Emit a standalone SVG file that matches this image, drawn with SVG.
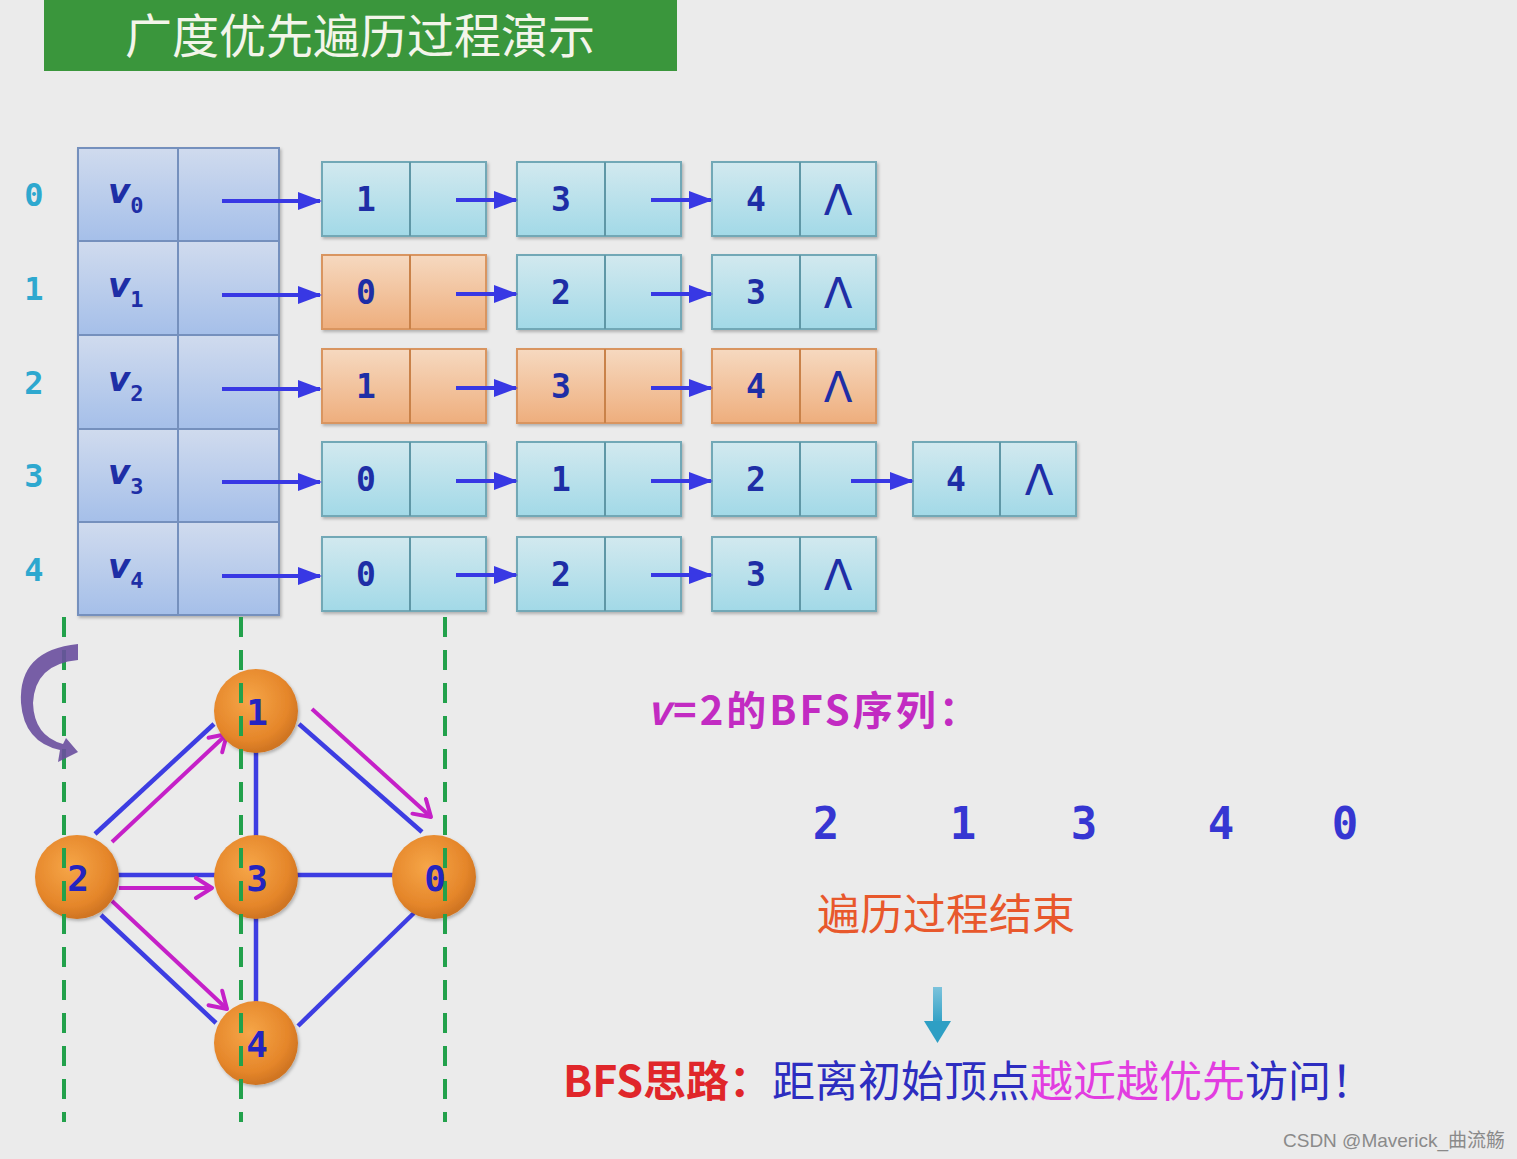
<svg xmlns="http://www.w3.org/2000/svg" width="1517" height="1159" viewBox="0 0 1517 1159">
<defs>
<linearGradient id="gTable" x1="0" y1="0" x2="0" y2="1"><stop offset="0" stop-color="#d0dbee"/><stop offset="1" stop-color="#a5bfe9"/></linearGradient>
<linearGradient id="gCyan" x1="0" y1="0" x2="0" y2="1"><stop offset="0" stop-color="#d2e9ef"/><stop offset="1" stop-color="#a2d9e7"/></linearGradient>
<linearGradient id="gOrange" x1="0" y1="0" x2="0" y2="1"><stop offset="0" stop-color="#f6d9c0"/><stop offset="1" stop-color="#eeae7d"/></linearGradient>
<radialGradient id="gNode" cx="0.42" cy="0.38" r="0.62"><stop offset="0" stop-color="#f6a648"/><stop offset="0.75" stop-color="#e5862a"/><stop offset="1" stop-color="#cf7422"/></radialGradient>
<linearGradient id="gDown" x1="0" y1="0" x2="0" y2="1"><stop offset="0" stop-color="#7cc3dc"/><stop offset="1" stop-color="#2e9fc4"/></linearGradient>
<filter id="sh" x="-5%" y="-5%" width="115%" height="120%"><feDropShadow dx="1.5" dy="2" stdDeviation="1.5" flood-color="#000" flood-opacity="0.25"/></filter>
<marker id="ab" markerUnits="userSpaceOnUse" markerWidth="24" markerHeight="18" refX="22" refY="9" orient="auto"><path d="M0,0 L24,9 L0,18 Z" fill="#3838e4"/></marker>
<marker id="ap" markerUnits="userSpaceOnUse" markerWidth="22" markerHeight="24" refX="19" refY="12" orient="auto"><path d="M3,2 L19,12 L3,22" fill="none" stroke="#c520c8" stroke-width="4" stroke-linecap="round" stroke-linejoin="round"/></marker>
</defs>
<style>
.tcell{fill:url(#gTable);stroke:#7590bd;stroke-width:2}
.cy{fill:url(#gCyan);stroke:#72a8b6;stroke-width:2}
.cyd{stroke:#5f97a6;stroke-width:2}
.or{fill:url(#gOrange);stroke:#d99560;stroke-width:2}
.ord{stroke:#c98248;stroke-width:2}
.num{font-family:"DejaVu Sans Mono",monospace;font-weight:bold;font-size:33px;fill:#1e2ea6;text-anchor:middle}
.idx{font-family:"DejaVu Sans Mono",monospace;font-weight:bold;font-size:32px;fill:#2ea8cf;text-anchor:middle}
.lam{font-family:"DejaVu Sans",sans-serif;font-size:42px;fill:#1e2ea6;text-anchor:middle}
.vl{font-family:"DejaVu Sans",sans-serif;font-style:italic;font-weight:bold;font-size:34px;fill:#1e2ea6}
.vs{font-family:"DejaVu Sans Mono",monospace;font-style:normal;font-weight:bold;font-size:22px}
.ptr{stroke:#3838e4;stroke-width:4;fill:none}
.edge{stroke:#3d3de2;stroke-width:4.5;fill:none}
.pk{stroke:#c520c8;stroke-width:4;fill:none;marker-end:url(#ap)}
.gl{stroke:#22a14b;stroke-width:4;stroke-dasharray:20 13;fill:none}
.gn{fill:url(#gNode);filter:url(#sh)}
.gt{font-family:"DejaVu Sans Mono",monospace;font-weight:bold;font-size:36px;fill:#2424c0;text-anchor:middle}
.seq{font-family:"DejaVu Sans Mono",monospace;font-weight:bold;font-size:44px;fill:#3636d2;text-anchor:middle}
.cjk{font-family:"Noto Sans CJK SC",sans-serif}
</style>
<rect x="0" y="0" width="1517" height="1159" fill="#ebebeb"/>

<g id="title">
<rect x="44" y="0" width="633" height="71" fill="#3a963c"/>
<text x="360" y="53" text-anchor="middle" class="cjk" font-size="47" fill="#f3f5ea">广度优先遍历过程演示</text>
</g>

<g id="index-labels">
<text class="idx" x="34" y="206">0</text>
<text class="idx" x="34" y="300">1</text>
<text class="idx" x="34" y="394">2</text>
<text class="idx" x="34" y="487">3</text>
<text class="idx" x="34" y="581">4</text>
</g>

<g id="vertex-table" filter="url(#sh)">
<rect class="tcell" x="78" y="148" width="100" height="93"/><rect class="tcell" x="178" y="148" width="101" height="93"/>
<rect class="tcell" x="78" y="241" width="100" height="94"/><rect class="tcell" x="178" y="241" width="101" height="94"/>
<rect class="tcell" x="78" y="335" width="100" height="94"/><rect class="tcell" x="178" y="335" width="101" height="94"/>
<rect class="tcell" x="78" y="429" width="100" height="93"/><rect class="tcell" x="178" y="429" width="101" height="93"/>
<rect class="tcell" x="78" y="522" width="100" height="93"/><rect class="tcell" x="178" y="522" width="101" height="93"/>
</g>
<g id="vertex-labels">
<text class="vl" x="108" y="203">v<tspan class="vs" dy="10">0</tspan></text>
<text class="vl" x="108" y="297">v<tspan class="vs" dy="10">1</tspan></text>
<text class="vl" x="108" y="391">v<tspan class="vs" dy="10">2</tspan></text>
<text class="vl" x="108" y="484">v<tspan class="vs" dy="10">3</tspan></text>
<text class="vl" x="108" y="578">v<tspan class="vs" dy="10">4</tspan></text>
</g>

<g id="list-nodes">
<g id="r0c0" filter="url(#sh)"><rect class="cy" x="322" y="162" width="164" height="74"/><line class="cyd" x1="410" y1="162" x2="410" y2="236"/></g>
<g id="r0c1" filter="url(#sh)"><rect class="cy" x="517" y="162" width="164" height="74"/><line class="cyd" x1="605" y1="162" x2="605" y2="236"/></g>
<g id="r0c2" filter="url(#sh)"><rect class="cy" x="712" y="162" width="164" height="74"/><line class="cyd" x1="800" y1="162" x2="800" y2="236"/></g>

<g id="r1c0" filter="url(#sh)"><rect class="or" x="322" y="255" width="164" height="74"/><line class="ord" x1="410" y1="255" x2="410" y2="329"/></g>
<g id="r1c1" filter="url(#sh)"><rect class="cy" x="517" y="255" width="164" height="74"/><line class="cyd" x1="605" y1="255" x2="605" y2="329"/></g>
<g id="r1c2" filter="url(#sh)"><rect class="cy" x="712" y="255" width="164" height="74"/><line class="cyd" x1="800" y1="255" x2="800" y2="329"/></g>

<g id="r2c0" filter="url(#sh)"><rect class="or" x="322" y="349" width="164" height="74"/><line class="ord" x1="410" y1="349" x2="410" y2="423"/></g>
<g id="r2c1" filter="url(#sh)"><rect class="or" x="517" y="349" width="164" height="74"/><line class="ord" x1="605" y1="349" x2="605" y2="423"/></g>
<g id="r2c2" filter="url(#sh)"><rect class="or" x="712" y="349" width="164" height="74"/><line class="ord" x1="800" y1="349" x2="800" y2="423"/></g>

<g id="r3c0" filter="url(#sh)"><rect class="cy" x="322" y="442" width="164" height="74"/><line class="cyd" x1="410" y1="442" x2="410" y2="516"/></g>
<g id="r3c1" filter="url(#sh)"><rect class="cy" x="517" y="442" width="164" height="74"/><line class="cyd" x1="605" y1="442" x2="605" y2="516"/></g>
<g id="r3c2" filter="url(#sh)"><rect class="cy" x="712" y="442" width="164" height="74"/><line class="cyd" x1="800" y1="442" x2="800" y2="516"/></g>
<g id="r3c3" filter="url(#sh)"><rect class="cy" x="913" y="442" width="163" height="74"/><line class="cyd" x1="1000" y1="442" x2="1000" y2="516"/></g>

<g id="r4c0" filter="url(#sh)"><rect class="cy" x="322" y="537" width="164" height="74"/><line class="cyd" x1="410" y1="537" x2="410" y2="611"/></g>
<g id="r4c1" filter="url(#sh)"><rect class="cy" x="517" y="537" width="164" height="74"/><line class="cyd" x1="605" y1="537" x2="605" y2="611"/></g>
<g id="r4c2" filter="url(#sh)"><rect class="cy" x="712" y="537" width="164" height="74"/><line class="cyd" x1="800" y1="537" x2="800" y2="611"/></g>
</g>

<g id="list-values">
<text class="num" x="366" y="211">1</text><text class="num" x="561" y="211">3</text><text class="num" x="756" y="211">4</text><text class="lam" x="838" y="215">Λ</text>
<text class="num" x="366" y="304">0</text><text class="num" x="561" y="304">2</text><text class="num" x="756" y="304">3</text><text class="lam" x="838" y="308">Λ</text>
<text class="num" x="366" y="398">1</text><text class="num" x="561" y="398">3</text><text class="num" x="756" y="398">4</text><text class="lam" x="838" y="402">Λ</text>
<text class="num" x="366" y="491">0</text><text class="num" x="561" y="491">1</text><text class="num" x="756" y="491">2</text><text class="num" x="956" y="491">4</text><text class="lam" x="1039" y="495">Λ</text>
<text class="num" x="366" y="586">0</text><text class="num" x="561" y="586">2</text><text class="num" x="756" y="586">3</text><text class="lam" x="838" y="590">Λ</text>
</g>

<g id="pointers">
<line class="ptr" x1="222" y1="201" x2="320" y2="201" marker-end="url(#ab)"/>
<line class="ptr" x1="456" y1="200" x2="516" y2="200" marker-end="url(#ab)"/>
<line class="ptr" x1="651" y1="200" x2="711" y2="200" marker-end="url(#ab)"/>
<line class="ptr" x1="222" y1="295" x2="320" y2="295" marker-end="url(#ab)"/>
<line class="ptr" x1="456" y1="294" x2="516" y2="294" marker-end="url(#ab)"/>
<line class="ptr" x1="651" y1="294" x2="711" y2="294" marker-end="url(#ab)"/>
<line class="ptr" x1="222" y1="389" x2="320" y2="389" marker-end="url(#ab)"/>
<line class="ptr" x1="456" y1="388" x2="516" y2="388" marker-end="url(#ab)"/>
<line class="ptr" x1="651" y1="388" x2="711" y2="388" marker-end="url(#ab)"/>
<line class="ptr" x1="222" y1="482" x2="320" y2="482" marker-end="url(#ab)"/>
<line class="ptr" x1="456" y1="481" x2="516" y2="481" marker-end="url(#ab)"/>
<line class="ptr" x1="651" y1="481" x2="711" y2="481" marker-end="url(#ab)"/>
<line class="ptr" x1="851" y1="481" x2="912" y2="481" marker-end="url(#ab)"/>
<line class="ptr" x1="222" y1="576" x2="320" y2="576" marker-end="url(#ab)"/>
<line class="ptr" x1="456" y1="575" x2="516" y2="575" marker-end="url(#ab)"/>
<line class="ptr" x1="651" y1="575" x2="711" y2="575" marker-end="url(#ab)"/>
</g>

<g id="graph-edges">
<line class="edge" x1="95" y1="834" x2="214" y2="724"/>
<line class="edge" x1="299" y1="724" x2="422" y2="832"/>
<line class="edge" x1="256" y1="752" x2="256" y2="836"/>
<line class="edge" x1="118" y1="875" x2="215" y2="875"/>
<line class="edge" x1="297" y1="875" x2="393" y2="875"/>
<line class="edge" x1="256" y1="918" x2="256" y2="1002"/>
<line class="edge" x1="101" y1="915" x2="216" y2="1023"/>
<line class="edge" x1="414" y1="913" x2="298" y2="1026"/>
<line class="pk" x1="112" y1="842" x2="227" y2="734"/>
<line class="pk" x1="312" y1="709" x2="431" y2="817"/>
<line class="pk" x1="119" y1="888" x2="212" y2="888"/>
<line class="pk" x1="112" y1="901" x2="227" y2="1009"/>
</g>

<g id="graph-nodes">
<g id="g1"><circle class="gn" cx="256" cy="711" r="42"/></g>
<g id="g2"><circle class="gn" cx="77" cy="877" r="42"/></g>
<g id="g3"><circle class="gn" cx="256" cy="877" r="42"/></g>
<g id="g0"><circle class="gn" cx="434" cy="877" r="42"/></g>
<g id="g4"><circle class="gn" cx="256" cy="1043" r="42"/></g>
</g>

<g id="guides">
<line class="gl" x1="64" y1="617" x2="64" y2="1122"/>
<line class="gl" x1="241" y1="617" x2="241" y2="1122"/>
<line class="gl" x1="445" y1="617" x2="445" y2="1122"/>
</g>

<g id="graph-labels">
<text class="gt" x="257" y="725">1</text>
<text class="gt" x="78" y="891">2</text>
<text class="gt" x="257" y="891">3</text>
<text class="gt" x="435" y="891">0</text>
<text class="gt" x="257" y="1057">4</text>
</g>

<g id="curl">
<path d="M78,644 Q18,650 21,703 Q24,742 60,750 L58,762 L78,752 L66,738 L63,744 Q34,736 33,703 Q35,664 78,660 Z" fill="#6a4f9f" opacity="0.9"/>
</g>

<g id="result">
<text x="647" y="725" class="cjk" font-size="40" font-weight="bold" fill="#c22bc2" letter-spacing="3"><tspan font-style="italic">v</tspan>=2的BFS序列：</text>
<text class="seq" x="826" y="839">2</text>
<text class="seq" x="963" y="839">1</text>
<text class="seq" x="1084" y="839">3</text>
<text class="seq" x="1221" y="839">4</text>
<text class="seq" x="1345" y="839">0</text>
<text x="817" y="930" class="cjk" font-size="43" fill="#e8582c">遍历过程结束</text>
<g id="down-arrow"><rect x="933" y="987" width="9" height="37" fill="url(#gDown)"/><polygon points="924,1021 951,1021 937.5,1043" fill="#2e9fc4"/></g>
<text x="563" y="1097" class="cjk" font-size="43"><tspan fill="#e0262a" font-weight="bold">BFS思路：</tspan><tspan fill="#2d2dc0">距离初始顶点</tspan><tspan fill="#e23de0">越近越优先</tspan><tspan fill="#2d2dc0">访问！</tspan></text>
</g>

<text x="1283" y="1147" font-family="Liberation Sans, Noto Sans CJK SC, sans-serif" font-size="19" fill="#8a8a8a">CSDN @Maverick_曲流觞</text>
</svg>
